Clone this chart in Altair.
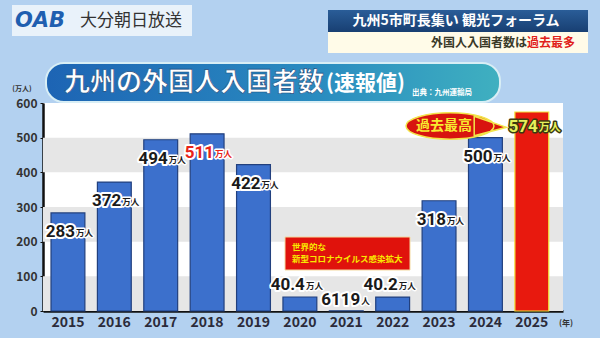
import altair as alt
import pandas as pd

# ---- data ----
years = ["2015", "2016", "2017", "2018", "2019", "2020", "2021", "2022", "2023", "2024", "2025"]
values = [283, 372, 494, 511, 422, 40.4, 0.6119, 40.2, 318, 500, 574]
num_labels = ["283", "372", "494", "511", "422", "40.4", "6119", "40.2", "318", "500", "574"]
unit_labels = ["万人", "万人", "万人", "万人", "万人", "万人", "人", "万人", "万人", "万人", "万人"]
y_ticks = [0, 100, 200, 300, 400, 500, 600]
band_lo = [0, 200, 400]
band_hi = [100, 300, 500]

df = pd.DataFrame({"year": years, "value": values, "num": num_labels, "unit": unit_labels})
bands = pd.DataFrame({"lo": band_lo, "hi": band_hi})
one = pd.DataFrame({"a": [0]})

FONT = "Noto Sans CJK JP"
NUMFONT = "Roboto"
L, T = 43, 103  # plot origin in page pixels
W, H = 520, 208


def ax(X):
    return alt.value(X - L)


def ay(Y):
    return alt.value(Y - T)


yaxis = alt.Axis(title=None, values=y_ticks, labelFont=FONT, labelFontSize=12,
                 labelFontWeight="bold", labelColor="#333", domainColor="#111",
                 domainWidth=2.5, tickColor="#111", tickSize=3, grid=False,
                 labelPadding=3, labelOverlap=False)
yscale = alt.Scale(domain=[0, 600], nice=False)

xs = alt.X("year:N", sort=years,
           scale=alt.Scale(paddingInner=0.27, paddingOuter=0.24, align=0.36),
           axis=alt.Axis(title=None, labelAngle=0, labelFont=FONT, labelFontSize=14,
                         labelFontWeight="bold", labelColor="#2b2b3a", domainColor="#111",
                         domainWidth=2.5, ticks=False, labelPadding=4))
ys = alt.Y("value:Q", scale=yscale, axis=yaxis)

bandlayer = alt.Chart(bands).mark_rect(color="#e6e6e6").encode(
    x=alt.value(0), x2=alt.value(W),
    y=alt.Y("lo:Q", scale=yscale, axis=yaxis), y2="hi:Q")

bars = alt.Chart(df).mark_bar(strokeWidth=1.2).encode(
    x=xs, y=ys,
    color=alt.condition("datum.year == '2025'", alt.value("#e8190e"), alt.value("#3c70cc")),
    stroke=alt.condition("datum.year == '2025'", alt.value("#f2e23a"), alt.value("#22407e")),
)

base = alt.Chart(df).encode(x=xs, y=ys)

inside = "datum.value >= 100 && datum.year != '2025'"
above = "datum.value < 100 && datum.year != '2021'"
y2021 = "datum.year == '2021'"


def label_layers(cond, dx, dy, color):
    red = alt.condition("datum.year == '2018'", alt.value("#e8231a"), alt.value(color))
    halo_n = base.transform_filter(cond).mark_text(
        font=NUMFONT, fontSize=17, fontWeight="bold", align="right", baseline="middle",
        dx=dx, dy=dy, color="white", stroke="white", strokeWidth=4, strokeJoin="round"
    ).encode(text="num:N")
    n = base.transform_filter(cond).mark_text(
        font=NUMFONT, fontSize=17, fontWeight="bold", align="right", baseline="middle",
        dx=dx, dy=dy).encode(text="num:N", color=red)
    halo_u = base.transform_filter(cond).mark_text(
        font=FONT, fontSize=8.5, fontWeight="bold", align="left", baseline="middle",
        dx=dx + 1, dy=dy + 1, color="white", stroke="white", strokeWidth=3, strokeJoin="round"
    ).encode(text="unit:N")
    u = base.transform_filter(cond).mark_text(
        font=FONT, fontSize=8.5, fontWeight="bold", align="left", baseline="middle",
        dx=dx + 1, dy=dy + 1).encode(text="unit:N", color=red)
    return [halo_n, halo_u, n, u]


lab_in = label_layers(inside, 7, 19, "#1a1a1a")
lab_above = label_layers(above, 5, -12, "#1a1a1a")
lab_2021 = label_layers(y2021, 14, -11, "#1a1a1a")

c25 = "datum.year == '2025'"
lab25 = [
    base.transform_filter(c25).mark_text(font=NUMFONT, fontSize=17, fontWeight="bold", align="right",
                                         baseline="middle", dx=6, dy=15, color="#3a3a10",
                                         stroke="#3a3a10", strokeWidth=3, strokeJoin="round").encode(text="num:N"),
    base.transform_filter(c25).mark_text(font=FONT, fontSize=11, fontWeight="bold", align="left",
                                         baseline="middle", dx=7, dy=16, color="#3a3a10",
                                         stroke="#3a3a10", strokeWidth=3, strokeJoin="round").encode(text="unit:N"),
    base.transform_filter(c25).mark_text(font=NUMFONT, fontSize=17, fontWeight="bold", align="right",
                                         baseline="middle", dx=6, dy=15, color="#e6f05a").encode(text="num:N"),
    base.transform_filter(c25).mark_text(font=FONT, fontSize=11, fontWeight="bold", align="left",
                                         baseline="middle", dx=7, dy=16, color="#e6f05a").encode(text="unit:N"),
]

deco = alt.Chart(one)

# callout ellipse
ellipse_path = ("M-1,0 A1,0.3 0 0,1 1,0 A1,0.3 0 0,1 -1,0 Z "
                "M0.55,-0.22 L1.28,0.03 L0.55,0.22 Z")
callout = deco.mark_point(shape=ellipse_path, size=7744, filled=True, fill="#d8140f",
                          stroke="#f3e54a", strokeWidth=1.5, opacity=1).encode(x=ax(450), y=ay(126))
callout_t = deco.mark_text(font=FONT, fontSize=14, fontWeight="bold", color="#f8ea30",
                           text="過去最高").encode(x=ax(444), y=ay(126))

# covid box
covid_box = deco.mark_rect(fill="#e0120c", stroke="#f3d9a0", strokeWidth=1).encode(
    x=ax(285), x2=ax(410), y=ay(237), y2=ay(270))
covid_t1 = deco.mark_text(font=FONT, fontSize=8.5, fontWeight="bold", color="#f8e800", align="left",
                          text="世界的な").encode(x=ax(292), y=ay(247))
covid_t2 = deco.mark_text(font=FONT, fontSize=8.5, fontWeight="bold", color="#f8e800", align="left",
                          text="新型コロナウイルス感染拡大").encode(x=ax(292), y=ay(259))

# title banner
grad = alt.LinearGradient(gradient="linear", x1=0, x2=1, y1=0, y2=0,
                          stops=[alt.GradientStop(offset=0, color="#1d64b4"),
                                 alt.GradientStop(offset=0.6, color="#2a8cc0"),
                                 alt.GradientStop(offset=1, color="#3fb0c0")])
banner = deco.mark_rect(fill=grad, cornerRadius=18, stroke="#d8eef5", strokeWidth=2).encode(
    x=ax(46), x2=ax(500), y=ay(63), y2=ay(102))
title_main = deco.mark_text(font=FONT, fontSize=26, fontWeight="bold", color="white", align="left",
                            stroke="#1a4a80", strokeWidth=0.6, text="九州の外国人入国者数").encode(x=ax(64), y=ay(83))
title_sub = deco.mark_text(font=FONT, fontSize=21, fontWeight="bold", color="white", align="left",
                           text="(速報値)").encode(x=ax(326), y=ay(84))
title_src = deco.mark_text(font=FONT, fontSize=7.5, fontWeight="bold", color="white", align="left",
                           text="出典：九州運輸局").encode(x=ax(412), y=ay(93))

# logo
logo_box = deco.mark_rect(fill="#eef5fb", opacity=0.9).encode(x=ax(12), x2=ax(192), y=ay(5), y2=ay(36))
logo_oab = deco.mark_text(font="DejaVu Sans", fontSize=21, fontWeight="bold", fontStyle="italic",
                          color="#1f5fb0", align="left", text="OAB").encode(x=ax(15), y=ay(21))
logo_name = deco.mark_text(font=FONT, fontSize=17, color="#333", align="left",
                           text="大分朝日放送").encode(x=ax(80), y=ay(21))

# top-right boxes
tr_grad = alt.LinearGradient(gradient="linear", x1=0, x2=0, y1=0, y2=1,
                             stops=[alt.GradientStop(offset=0, color="#2a5d98"),
                                    alt.GradientStop(offset=1, color="#183f72")])
tr_box = deco.mark_rect(fill=tr_grad).encode(x=ax(328), x2=ax(588), y=ay(10), y2=ay(32))
tr_text = deco.mark_text(font=FONT, fontSize=14, fontWeight="bold", color="white",
                         text="九州5市町長集い 観光フォーラム").encode(x=ax(456), y=ay(21))
tr_box2 = deco.mark_rect(fill="#fffbe8").encode(x=ax(328), x2=ax(588), y=ay(32), y2=ay(53))
tr_t2a = deco.mark_text(font=FONT, fontSize=12, fontWeight="bold", color="#3a3a28", align="right",
                        text="外国人入国者数は").encode(x=ax(527), y=ay(43))
tr_t2b = deco.mark_text(font=FONT, fontSize=12, fontWeight="bold", color="#e0201a", align="left",
                        text="過去最多").encode(x=ax(527), y=ay(43))

# axis unit labels
unit_y = deco.mark_text(font=FONT, fontSize=7, fontWeight="bold", color="#333",
                        text="(万人)").encode(x=ax(22), y=ay(89))
unit_x = deco.mark_text(font=FONT, fontSize=8, fontWeight="bold", color="#333", align="left",
                        text="(年)").encode(x=ax(559), y=ay(324))

chart = alt.layer(
    bandlayer, bars, *lab_in, *lab_above, *lab_2021, *lab25,
    callout, callout_t, covid_box, covid_t1, covid_t2,
    banner, title_main, title_sub, title_src,
    logo_box, logo_oab, logo_name,
    tr_box, tr_text, tr_box2, tr_t2a, tr_t2b,
    unit_y, unit_x,
).resolve_scale(y="shared").properties(
    width=W, height=H,
    autosize=alt.AutoSizeParams(type="none"),
    padding={"left": L, "top": T, "right": 600 - L - W, "bottom": 338 - T - H},
    background="#b3d1f0",
).configure_view(fill="white", stroke=None)

chart.save("out.html", embed_options={"renderer": "svg", "actions": False})
